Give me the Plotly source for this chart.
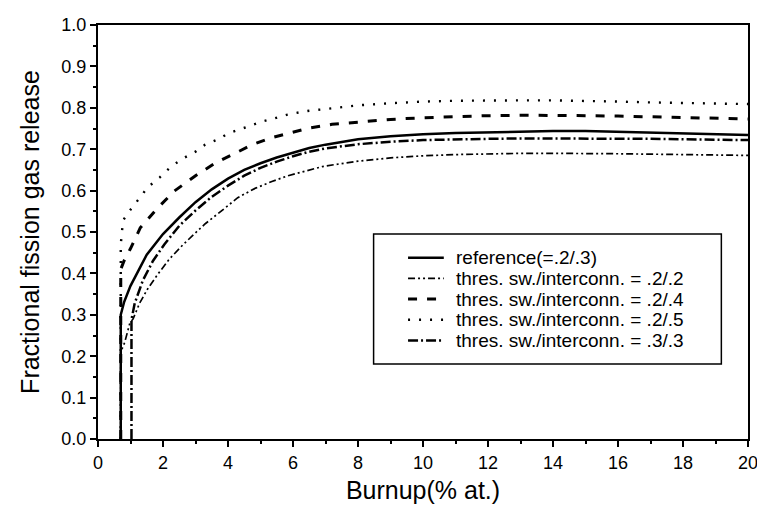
import plotly.graph_objects as go

# ---- data ----
ref_x = [0.70, 0.70, 0.80, 1.0, 1.5, 2.0, 2.5, 3.0, 3.5, 4.0, 4.5, 5.0, 5.5, 6.0, 6.5, 7.0, 7.5, 8.0, 9.0, 10.0, 11.0, 12.0, 13.0, 14.0, 15.0, 16.0, 17.0, 18.0, 19.0, 20.0]
ref_y = [0.0, 0.30, 0.33, 0.37, 0.445, 0.495, 0.535, 0.572, 0.603, 0.629, 0.650, 0.666, 0.680, 0.692, 0.703, 0.711, 0.718, 0.724, 0.731, 0.736, 0.739, 0.741, 0.743, 0.744, 0.744, 0.742, 0.740, 0.738, 0.736, 0.734]

s22_x = [0.70, 0.70, 0.82, 0.98, 1.08, 1.28, 1.53, 1.84, 2.2, 2.6, 3.0, 3.3, 3.8, 4.3, 4.85, 5.35, 5.85, 6.4, 6.9, 7.3, 8.0, 9.0, 10.0, 11.0, 12.0, 13.0, 14.0, 15.0, 16.0, 17.0, 18.0, 19.0, 20.0]
s22_y = [0.0, 0.21, 0.233, 0.28, 0.29, 0.328, 0.363, 0.398, 0.435, 0.468, 0.498, 0.52, 0.551, 0.583, 0.606, 0.622, 0.636, 0.647, 0.658, 0.663, 0.671, 0.679, 0.684, 0.687, 0.689, 0.690, 0.690, 0.690, 0.689, 0.688, 0.687, 0.686, 0.685]

s24_x = [0.70, 0.70, 0.80, 1.0, 1.3, 1.8, 2.35, 3.0, 3.6, 4.2, 4.75, 5.35, 6.0, 6.5, 7.2, 8.0, 9.0, 10.0, 11.0, 12.0, 13.0, 14.0, 15.0, 16.0, 17.0, 18.0, 19.0, 20.0]
s24_y = [0.0, 0.41, 0.43, 0.46, 0.51, 0.555, 0.599, 0.636, 0.666, 0.690, 0.711, 0.728, 0.742, 0.751, 0.760, 0.766, 0.772, 0.776, 0.779, 0.781, 0.782, 0.782, 0.781, 0.780, 0.778, 0.776, 0.775, 0.773]

s25_x = [0.70, 0.70, 0.77, 1.0, 1.26, 1.53, 1.9, 2.25, 2.6, 3.0, 3.3, 3.7, 4.0, 4.4, 4.75, 5.1, 5.45, 5.8, 6.2, 6.5, 7.0, 7.3, 8.0, 9.0, 10.0, 11.0, 12.0, 13.0, 14.0, 15.0, 16.0, 17.0, 18.0, 19.0, 20.0]
s25_y = [0.0, 0.47, 0.528, 0.554, 0.58, 0.608, 0.632, 0.658, 0.677, 0.694, 0.711, 0.724, 0.738, 0.749, 0.760, 0.768, 0.775, 0.783, 0.789, 0.793, 0.797, 0.800, 0.806, 0.811, 0.815, 0.817, 0.818, 0.818, 0.818, 0.817, 0.815, 0.813, 0.812, 0.810, 0.809]

s33_x = [1.03, 1.03, 1.13, 1.38, 1.69, 2.04, 2.5, 3.0, 3.5, 4.0, 4.5, 5.0, 5.5, 6.0, 6.5, 7.0, 8.0, 9.0, 10.0, 11.0, 12.0, 13.0, 14.0, 15.0, 16.0, 17.0, 18.0, 19.0, 20.0]
s33_y = [0.0, 0.288, 0.328, 0.383, 0.43, 0.47, 0.515, 0.552, 0.585, 0.612, 0.636, 0.655, 0.670, 0.683, 0.694, 0.702, 0.712, 0.718, 0.722, 0.724, 0.725, 0.726, 0.726, 0.726, 0.726, 0.725, 0.724, 0.723, 0.722]

names = [
    "reference(=.2/.3)",
    "thres. sw./interconn. = .2/.2",
    "thres. sw./interconn. = .2/.4",
    "thres. sw./interconn. = .2/.5",
    "thres. sw./interconn. = .3/.3",
]

x_ticks = [0, 2, 4, 6, 8, 10, 12, 14, 16, 18, 20]
y_ticks = [0.0, 0.1, 0.2, 0.3, 0.4, 0.5, 0.6, 0.7, 0.8, 0.9, 1.0]

# ---- figure ----
FONT = "Liberation Sans, Arial, sans-serif"
styles = [
    dict(color="black", width=2.5, dash="solid"),
    dict(color="black", width=1.7, dash="7px,3px,2px,3px,2px,3px"),
    dict(color="black", width=3, dash="9px,10px"),
    dict(color="black", width=2.4, dash="2px,9px"),
    dict(color="black", width=2.5, dash="10px,3px,2px,3px"),
]
series = [(ref_x, ref_y), (s22_x, s22_y), (s24_x, s24_y), (s25_x, s25_y), (s33_x, s33_y)]

fig = go.Figure()
for (xs, ys), ln, nm in zip(series, styles, names):
    fig.add_trace(go.Scatter(x=xs, y=ys, mode="lines", name=nm, line=ln, showlegend=False))

axis_common = dict(
    showgrid=False, zeroline=False, showline=True, linecolor="black", linewidth=2,
    mirror=True, ticks="outside", ticklen=6, tickwidth=1.5, tickcolor="black",
    tickfont=dict(family=FONT, size=18, color="black"),
    ticklabeloverflow="allow",
)

fig.update_xaxes(
    range=[0, 20], tickvals=x_ticks, ticktext=[str(v) for v in x_ticks],
    minor=dict(dtick=1, ticks="outside", ticklen=3, tickwidth=1.5, tickcolor="black"),
    title=dict(text="Burnup(% at.)", font=dict(family=FONT, size=25, color="black"), standoff=10),
    **axis_common,
)
fig.update_yaxes(
    range=[0, 1.0], tickvals=y_ticks, ticktext=[f"{v:.1f}" for v in y_ticks],
    minor=dict(dtick=0.05, ticks="outside", ticklen=3, tickwidth=1.5, tickcolor="black"),
    title=dict(text="Fractional fission gas release", font=dict(family=FONT, size=25, color="black"), standoff=15),
    **axis_common,
)

# legend: frame, sample lines and labels in paper coordinates
box = dict(x0=0.424, x1=0.959, y0=0.181, y1=0.495)
fig.add_shape(type="rect", xref="paper", yref="paper", **box,
              line=dict(color="black", width=1.5), fillcolor="rgba(0,0,0,0)")
row_top, row_step = 0.438, 0.050
sample_x0, sample_x1, text_x = 0.477, 0.532, 0.547
for i, (nm, ln) in enumerate(zip(names, styles)):
    yy = row_top - i * row_step
    fig.add_shape(type="line", xref="paper", yref="paper",
                  x0=sample_x0, x1=sample_x1, y0=yy, y1=yy, line=ln)
    fig.add_annotation(xref="paper", yref="paper", x=text_x, y=yy, text=nm,
                       showarrow=False, xanchor="left", yanchor="middle",
                       font=dict(family=FONT, size=19, color="black"))

# the page body has an 8px default margin, so the figure is sized to fit the window
fig.update_layout(
    width=757, height=500,
    margin=dict(l=90, r=11, t=7, b=69),
    paper_bgcolor="white", plot_bgcolor="white",
    font=dict(family=FONT, color="black"),
    showlegend=False,
)

fig.write_html("out.html")
